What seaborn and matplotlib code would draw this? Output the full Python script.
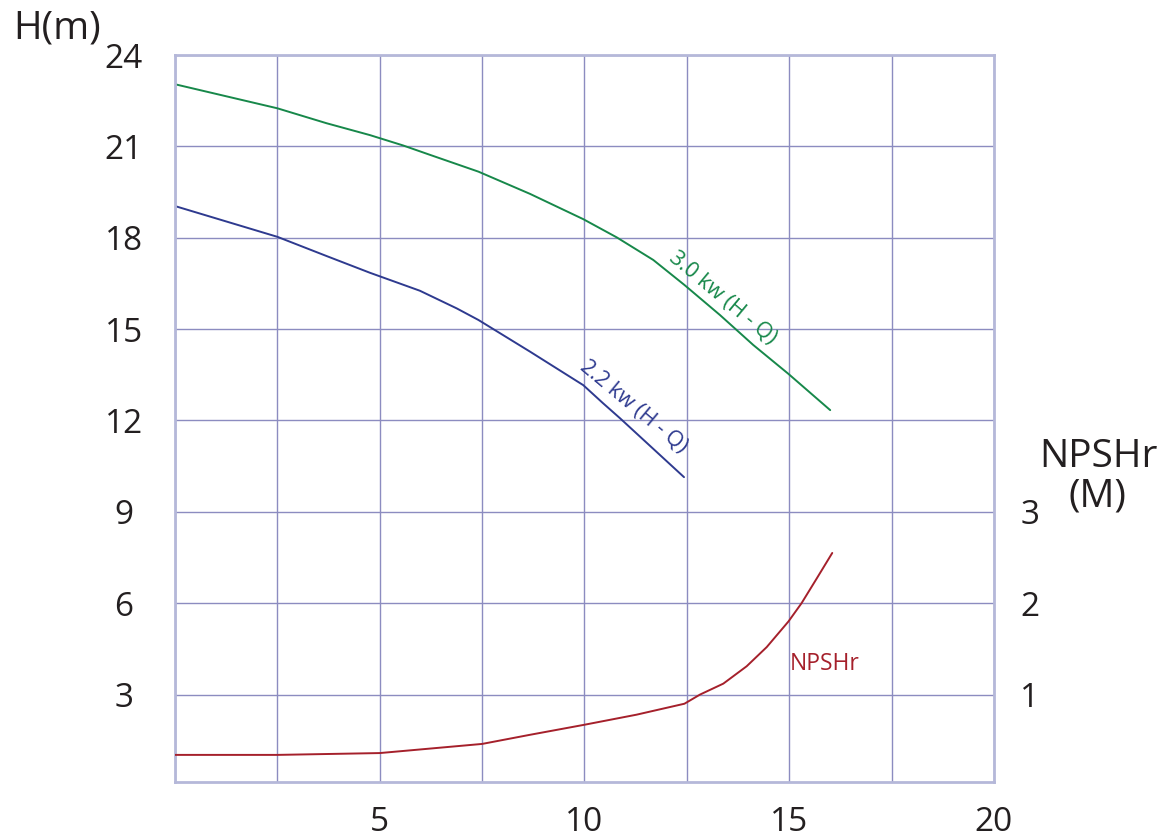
import matplotlib
matplotlib.use('Agg')
import numpy as np
import pandas as pd
import seaborn as sns
import matplotlib.pyplot as plt

# Dữ liệu: lưu lượng Q và cột áp H (m)
q_30 = [0, 2.5, 3.7, 4.76, 5.57, 6.23, 7.41, 8.67, 9.97, 10.79, 11.68, 12.44, 13.31, 14.12, 14.98, 16.0]
h_30 = [23.04, 22.25, 21.76, 21.37, 21.03, 20.72, 20.17, 19.44, 18.61, 18.01, 17.27, 16.45, 15.46, 14.48, 13.53, 12.34]

q_22 = [0, 2.5, 3.7, 4.76, 5.98, 6.88, 7.41, 8.67, 9.97, 10.45, 10.87, 12.43]
h_22 = [19.04, 18.03, 17.4, 16.85, 16.26, 15.68, 15.30, 14.26, 13.16, 12.57, 12.07, 10.14]

# NPSHr (M)
q_np = [0, 2.5, 5, 7.5, 8.67, 10, 11.27, 12.44, 12.82, 13.39, 13.96, 14.45, 14.98, 15.3, 15.67, 16.05]
npshr = [0.34, 0.34, 0.36, 0.46, 0.56, 0.67, 0.78, 0.90, 1.0, 1.12, 1.31, 1.52, 1.80, 2.0, 2.27, 2.55]

x_labels = ['', '', '5', '', '10', '', '15', '', '20']
y_ticks = [3, 6, 9, 12, 15, 18, 21, 24]
r_ticks = [1, 2, 3]

green = '#17884a'
blue = '#2e3a8f'
red = '#a5202b'
grid_c = '#8c8cc0'
txt_c = '#231f20'

sns.set_style('white')
plt.rcParams['font.family'] = ['Open Sans', 'DejaVu Sans']

fig = plt.figure(figsize=(11.69, 8.39), dpi=100)
ax = fig.add_axes([175 / 1169, 57 / 839, 819 / 1169, 727 / 839])

df30 = pd.DataFrame({'Q': q_30, 'H': h_30})
df22 = pd.DataFrame({'Q': q_22, 'H': h_22})
sns.lineplot(data=df30, x='Q', y='H', color=green, lw=1.4, ax=ax)
sns.lineplot(data=df22, x='Q', y='H', color=blue, lw=1.4, ax=ax)

ax.set_xlim(0, 20)
ax.set_ylim(0.13, 24)
ax.set_xticks(np.arange(0, 20.1, 2.5))
ax.set_xticklabels(x_labels)
ax.set_yticks(y_ticks)
ax.set_yticklabels([str(v) for v in y_ticks])
ax.grid(True, color=grid_c, lw=1)
ax.set_xlabel('')
ax.set_ylabel('')
ax.tick_params(axis='both', length=0, labelsize=24, labelcolor=txt_c)
ax.tick_params(axis='y', pad=37)
ax.tick_params(axis='x', pad=17)
for lab in ax.get_yticklabels():
    lab.set_horizontalalignment('center')
for s in ax.spines.values():
    s.set_color('#b5b8d9')
    s.set_linewidth(2)

# Trục phải cho NPSHr
ax2 = ax.twinx()
dfnp = pd.DataFrame({'Q': q_np, 'N': npshr})
sns.lineplot(data=dfnp, x='Q', y='N', color=red, lw=1.4, ax=ax2)
ax2.set_ylim(0.13 / 3, 8)
ax2.set_yticks(r_ticks)
ax2.set_yticklabels([str(v) for v in r_ticks])
ax2.set_ylabel('')
ax2.tick_params(axis='y', length=0, labelsize=24, labelcolor=txt_c, pad=19)
for s in ax2.spines.values():
    s.set_visible(False)

ax.text(13.39, 16.04, '3.0 kw (H - Q)', color=green, fontsize=15.5, rotation=-39.8,
        ha='center', va='center', rotation_mode='anchor')
ax.text(11.21, 12.45, '2.2 kw (H - Q)', color=blue, fontsize=15.5, rotation=-39.7,
        ha='center', va='center', rotation_mode='anchor')
ax.text(15.87, 4.0, 'NPSHr', color=red, fontsize=16.5, ha='center', va='center')

fig.text(57 / 1169, 1 - 28 / 839, 'H(m)', fontsize=28, color=txt_c, ha='center', va='center')
fig.text(1098 / 1169, 1 - 477 / 839, 'NPSHr\n(M)', fontsize=28, color=txt_c,
         ha='center', va='center', linespacing=1.05)

fig.savefig('out.png', dpi=100)
